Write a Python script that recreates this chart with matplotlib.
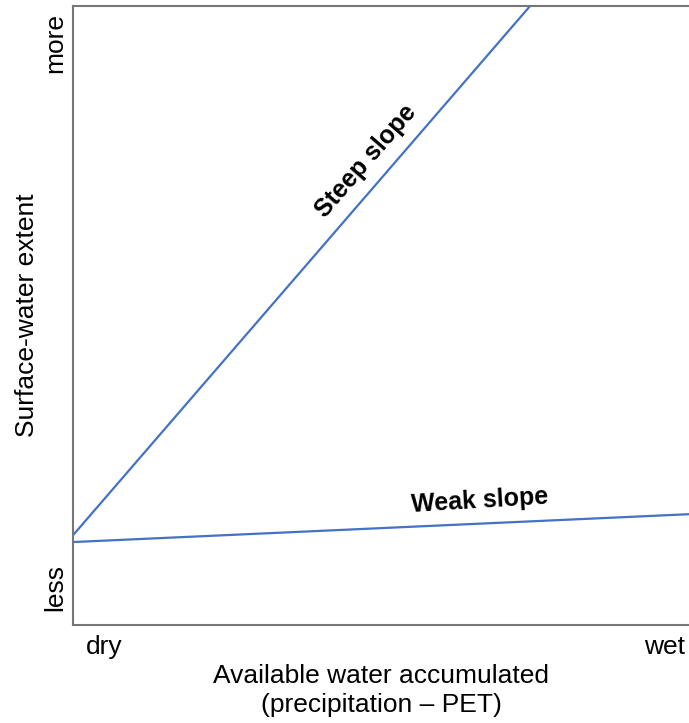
import matplotlib
matplotlib.use('Agg')
import matplotlib.pyplot as plt

plt.rcParams['font.family'] = ['Liberation Sans', 'DejaVu Sans']

# valores (ejes normalizados 0..1)
x_line = [0.0, 1.0]
steep_y = [0.145, 0.145 + (1.0 - 0.145) / 0.742]
weak_y = [0.134, 0.179]
x_ticks = [0.05, 0.96]
x_ticklabels = ['dry', 'wet']
y_ticks = [0.06, 0.94]
y_ticklabels = ['less', 'more']

fig = plt.figure(figsize=(6.89, 7.23), dpi=100)
ax = fig.add_axes([73 / 689, 98 / 723, 616 / 689, 619 / 723])

col = '#4472C4'
ax.plot(x_line, steep_y, color=col, lw=1.6)
ax.plot(x_line, weak_y, color=col, lw=1.6)
ax.set_xlim(0, 1)
ax.set_ylim(0, 1)

for s in ['left', 'bottom', 'top']:
    ax.spines[s].set_color('#767676')
    ax.spines[s].set_linewidth(1.5)
ax.spines['right'].set_visible(False)

ax.set_xticks(x_ticks)
ax.set_xticklabels(x_ticklabels, fontsize=19)
ax.set_yticks(y_ticks)
ax.set_yticklabels(y_ticklabels, fontsize=19, rotation=90, va='center')
ax.tick_params(axis='x', length=0, pad=7)
ax.tick_params(axis='y', length=0, pad=4)

ax.set_xlabel('Available water accumulated\n(precipitation \u2013 PET)', fontsize=19,
              labelpad=4, linespacing=1.25)
ax.set_ylabel('Surface-water extent', fontsize=19, labelpad=3)

ax.text(0.475, 0.75, 'Steep slope', fontsize=18, fontweight='bold',
        rotation=49, ha='center', va='center', transform=ax.transAxes)
ax.text(0.66, 0.2, 'Weak slope', fontsize=18, fontweight='bold',
        rotation=3.5, ha='center', va='center', transform=ax.transAxes)

fig.savefig('out.png', dpi=100)
